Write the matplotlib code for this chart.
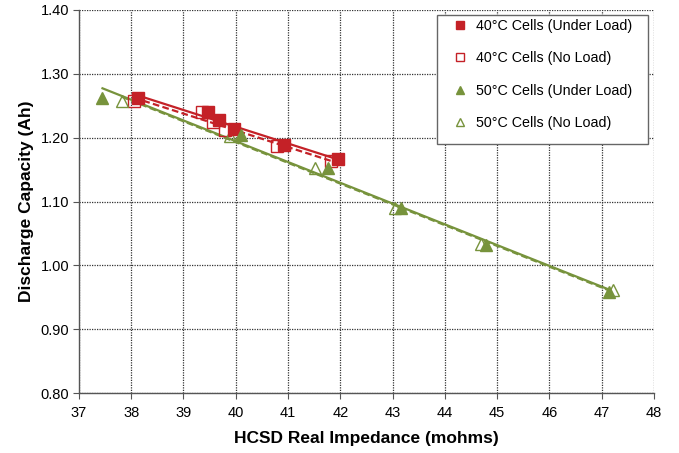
import numpy as np
import matplotlib.pyplot as plt
from matplotlib.patches import Rectangle

plt.rcParams['font.family'] = ['Liberation Sans', 'DejaVu Sans']

# 40C cells
x_40_load = [38.13, 39.47, 39.68, 39.96, 40.92, 41.95]
y_40_load = [1.262, 1.241, 1.228, 1.213, 1.189, 1.167]
x_40_noload = [38.05, 39.35, 39.57, 39.80, 40.79, 41.83]
y_40_noload = [1.258, 1.240, 1.224, 1.212, 1.187, 1.164]

# 50C cells
x_50_load = [37.45, 40.10, 41.77, 43.17, 44.78, 47.15]
y_50_load = [1.262, 1.204, 1.152, 1.090, 1.032, 0.958]
x_50_noload = [37.82, 39.89, 41.51, 43.04, 44.70, 47.22]
y_50_noload = [1.258, 1.203, 1.152, 1.090, 1.034, 0.961]

red = '#C42127'
green = '#77933C'

fig = plt.figure(figsize=(6.79, 4.53), dpi=100)
ax = fig.add_axes([0.1163, 0.132, 0.8467, 0.846])


def trend(x, y, color, ls):
    m, b = np.polyfit(x, y, 1)
    xs = np.array([min(x), max(x)])
    ax.plot(xs, m * xs + b, color=color, linestyle=ls, linewidth=1.6, zorder=2)


trend(x_40_load, y_40_load, red, '-')
trend(x_40_noload, y_40_noload, red, (0, (3, 1.5)))
trend(x_50_load, y_50_load, green, '-')
trend(x_50_noload, y_50_noload, green, (0, (3, 1.5)))

ax.plot(x_40_load, y_40_load, 's', color=red, markersize=8, ls='none',
        label='40°C Cells (Under Load)', zorder=4)
ax.plot(x_40_noload, y_40_noload, 's', mfc='none', mec=red, mew=1, markersize=8,
        ls='none', label='40°C Cells (No Load)', zorder=3)
ax.plot(x_50_load, y_50_load, '^', color=green, markersize=8, ls='none',
        label='50°C Cells (Under Load)', zorder=4)
ax.plot(x_50_noload, y_50_noload, '^', mfc='none', mec=green, mew=1, markersize=8,
        ls='none', label='50°C Cells (No Load)', zorder=3)

ax.set_xlim(37, 48)
ax.set_ylim(0.80, 1.40)
ax.set_xticks(np.arange(37, 49, 1))
ax.set_yticks(np.arange(0.80, 1.41, 0.10))
ax.set_yticklabels([f"{v:.2f}" for v in np.arange(0.80, 1.41, 0.10)])

ax.grid(True, color='#333333', linestyle=(0, (1, 1)), linewidth=0.9)
ax.set_axisbelow(True)
for s in ['top', 'right']:
    ax.spines[s].set_visible(False)
for s in ['left', 'bottom']:
    ax.spines[s].set_color('#555555')
    ax.spines[s].set_linewidth(1.0)
ax.tick_params(direction='out', length=4, color='#555555', labelsize=10.5)
ax.tick_params(axis='x', pad=5)
ax.tick_params(axis='y', pad=3)

ax.set_xlabel('HCSD Real Impedance (mohms)', fontsize=12.5, fontweight='bold', labelpad=8)
ax.set_ylabel('Discharge Capacity (Ah)', fontsize=12.5, fontweight='bold', labelpad=5)

# legend frame drawn separately (Excel-style uneven padding)
ax.add_patch(Rectangle((0.6226, 0.6505), 0.367, 0.3365, transform=ax.transAxes,
                       facecolor='white', edgecolor='#666666', linewidth=1.0,
                       zorder=5, clip_on=False))
leg = ax.legend(loc='upper left', bbox_to_anchor=(0.6504, 0.9765), fontsize=10.3,
                labelspacing=1.28, handlelength=1.0, handletextpad=0.65,
                borderpad=0, borderaxespad=0, frameon=False, markerscale=0.7)
leg.set_zorder(6)

fig.savefig('out.png', dpi=100)
